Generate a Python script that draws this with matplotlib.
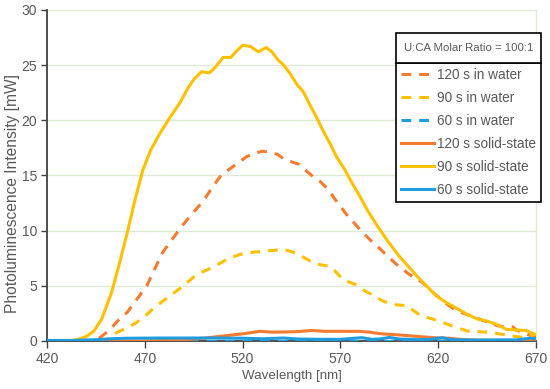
import matplotlib
matplotlib.use("Agg")
import matplotlib.pyplot as plt
from matplotlib.patches import Rectangle

plt.rcParams['font.family'] = ['Liberation Sans', 'DejaVu Sans']

# ---------------- data ----------------
x_120_water = [420, 445, 447, 452, 456, 461, 466, 471, 475, 479, 484, 488, 494, 500, 504, 508.5, 512, 515,
               519, 522, 526, 530, 534, 538, 541, 544, 549, 552, 556, 560, 564, 567, 570, 573, 577, 581,
               585, 590, 594, 599, 604, 608, 612, 616, 620, 624, 628, 633, 638, 644, 650, 653, 655, 658,
               660, 664, 668, 670]
y_120_water = [0, 0, 0.3, 1.0, 1.8, 2.6, 3.8, 5.0, 6.5, 8.0, 9.2, 10.2, 11.5, 12.7, 13.8, 14.9, 15.4, 15.8,
               16.3, 16.7, 17.0, 17.2, 17.1, 16.9, 16.5, 16.3, 16.0, 15.5, 14.9, 14.4, 13.7, 12.9, 12.2, 11.5,
               10.7, 9.9, 9.2, 8.4, 7.7, 6.9, 6.2, 5.7, 5.3, 4.6, 4.0, 3.4, 2.9, 2.5, 2.2, 1.8, 1.4, 1.3,
               1.3, 1.3, 1.0, 0.7, 0.45, 0.4]

x_90_water = [420, 450, 452, 456, 461, 466, 471, 476, 483, 489, 495, 500, 505, 509, 513, 518, 522, 529, 535,
              541, 545, 548, 552, 556, 560, 564, 567, 571, 575, 578, 582, 587, 592, 597, 604, 607, 611, 617,
              622, 628, 635, 645, 653, 658, 662, 666, 670]
y_90_water = [0, 0, 0.4, 0.8, 1.2, 1.7, 2.4, 3.2, 4.1, 4.9, 5.8, 6.3, 6.7, 7.1, 7.5, 7.8, 8.0, 8.1, 8.2,
              8.3, 8.1, 7.9, 7.5, 7.1, 6.9, 6.8, 6.4, 5.6, 5.3, 5.1, 4.6, 4.1, 3.6, 3.3, 3.2, 2.8, 2.3, 2.0,
              1.7, 1.3, 0.9, 0.8, 0.6, 0.45, 0.35, 0.4, 0.6]

x_60_water = [420, 500, 600, 670]
y_60_water = [0.03, 0.03, 0.03, 0.03]

x_120_solid = [420, 470, 480, 490, 500, 510, 520, 529, 535, 542, 548, 555, 562, 570, 580, 585, 590, 595,
               600, 607, 614, 621, 626, 631, 640, 650, 660, 670]
y_120_solid = [0, 0, 0.05, 0.12, 0.25, 0.45, 0.65, 0.88, 0.8, 0.82, 0.85, 0.95, 0.88, 0.88, 0.87, 0.8, 0.67,
               0.6, 0.55, 0.45, 0.35, 0.27, 0.25, 0.15, 0.08, 0.05, 0.03, 0.02]

x_90_solid = [420, 430, 435, 440, 444, 448, 453, 457, 461, 465, 469, 473, 478, 483, 488, 492, 495, 499, 503,
              506, 510, 514, 517, 520, 524, 528, 532, 535, 538, 541, 544, 548, 551, 555, 558, 561, 565, 568,
              572, 576, 580, 584, 589, 594, 600, 604, 609, 614, 619, 624, 630, 635, 640, 645, 650, 655, 660,
              665, 668, 670]
y_90_solid = [0, 0, 0.1, 0.4, 0.9, 2.0, 4.4, 7.0, 9.8, 12.8, 15.5, 17.3, 18.9, 20.3, 21.6, 22.9, 23.7, 24.4,
              24.3, 24.8, 25.7, 25.7, 26.3, 26.8, 26.7, 26.2, 26.6, 26.2, 25.5, 25.0, 24.3, 23.2, 22.6, 21.2,
              20.2, 19.1, 17.8, 16.7, 15.6, 14.3, 13.1, 11.8, 10.4, 9.1, 7.7, 6.9, 5.9, 5.0, 4.1, 3.5, 2.9,
              2.4, 2.0, 1.8, 1.5, 1.05, 1.0, 0.95, 0.7, 0.6]

x_60_solid = [420, 433, 445, 455, 461, 480, 500, 520, 530, 541, 548, 560, 570, 581, 586, 590, 595, 600, 610,
              616, 622, 627, 640, 650, 660, 667, 670]
y_60_solid = [0.05, 0.05, 0.12, 0.22, 0.25, 0.27, 0.27, 0.25, 0.2, 0.27, 0.18, 0.15, 0.15, 0.3, 0.15, 0.18,
              0.32, 0.18, 0.12, 0.15, 0.3, 0.12, 0.08, 0.1, 0.1, 0.25, 0.2]

x_ticks = [420, 470, 520, 570, 620, 670]
y_ticks = [0, 5, 10, 15, 20, 25, 30]

legend_title = "U:CA Molar Ratio = 100:1"
labels = ["120 s in water", "90 s in water", "60 s in water",
          "120 s solid-state", "90 s solid-state", "60 s solid-state"]

# ---------------- style ----------------
ORANGE = '#F47B2F'
GOLD = '#FFC000'
BLUE = '#1E9CE0'
TXT = '#595959'
GRID = '#DDEBD6'
LW = 2.2
DASH = (3.2, 2.6)

fig = plt.figure(figsize=(5.5, 3.89), dpi=100)
ax = fig.add_axes([0.0855, 0.1234, 0.889, 0.851])

ax.plot(x_120_water, y_120_water, color=ORANGE, lw=LW, dashes=DASH, label=labels[0], zorder=3)
ax.plot(x_90_water, y_90_water, color=GOLD, lw=LW, dashes=DASH, label=labels[1], zorder=3)
ax.plot(x_60_water, y_60_water, color=BLUE, lw=LW, dashes=DASH, label=labels[2], zorder=3)
ax.plot(x_120_solid, y_120_solid, color=ORANGE, lw=LW, label=labels[3], zorder=3)
ax.plot(x_90_solid, y_90_solid, color=GOLD, lw=LW, label=labels[4], zorder=3)
ax.plot(x_60_solid, y_60_solid, color=BLUE, lw=LW, label=labels[5], zorder=3)

ax.set_xlim(420, 670)
ax.set_ylim(0, 30)
ax.set_xticks(x_ticks)
ax.set_yticks(y_ticks)
ax.yaxis.grid(True, color=GRID, lw=1)
ax.set_axisbelow(True)

ax.spines['top'].set_visible(False)
ax.spines['right'].set_color(GRID)
ax.spines['right'].set_linewidth(1)
ax.spines['left'].set_color('#404040')
ax.spines['bottom'].set_color('#404040')
ax.spines['left'].set_linewidth(1.3)
ax.spines['bottom'].set_linewidth(1.3)

ax.tick_params(axis='x', direction='out', length=5, width=1, color='#404040',
               labelsize=10, labelcolor=TXT, pad=3)
ax.tick_params(axis='y', direction='out', length=4, width=1, color='#404040',
               labelsize=10, labelcolor=TXT, pad=3)

ax.set_xlabel("Wavelength [nm]", fontsize=9.6, color=TXT, labelpad=3)
ax.set_ylabel("Photoluminescence Intensity [mW]", fontsize=11.2, color=TXT)
ax.yaxis.set_label_coords(-0.056, 0.445)

# legend
title_h = 30  # px
leg = ax.legend(loc='upper right', bbox_to_anchor=(541 / 550, 1 - (33 + title_h) / 389),
                bbox_transform=fig.transFigure, fontsize=9.8, frameon=True, fancybox=False,
                edgecolor='black', framealpha=1, handlelength=2.4, handletextpad=0.2,
                labelspacing=0.66, borderpad=0.38, borderaxespad=0)
leg.get_frame().set_linewidth(1.2)
for t in leg.get_texts():
    t.set_color(TXT)

fig.canvas.draw()
bb = leg.get_window_extent()
W, H = fig.get_size_inches() * fig.dpi
x0 = bb.x0 / W
w = bb.width / W
y0 = bb.y1 / H
h = title_h / H
rect = Rectangle((x0, y0), w, h, transform=fig.transFigure, facecolor='white',
                 edgecolor='black', lw=1.2, zorder=10)
fig.patches.append(rect)
fig.text(x0 + w / 2, y0 + h / 2, legend_title, ha='center', va='center', fontsize=8.2,
         color=TXT, zorder=11)

fig.savefig("out.png", dpi=100)
